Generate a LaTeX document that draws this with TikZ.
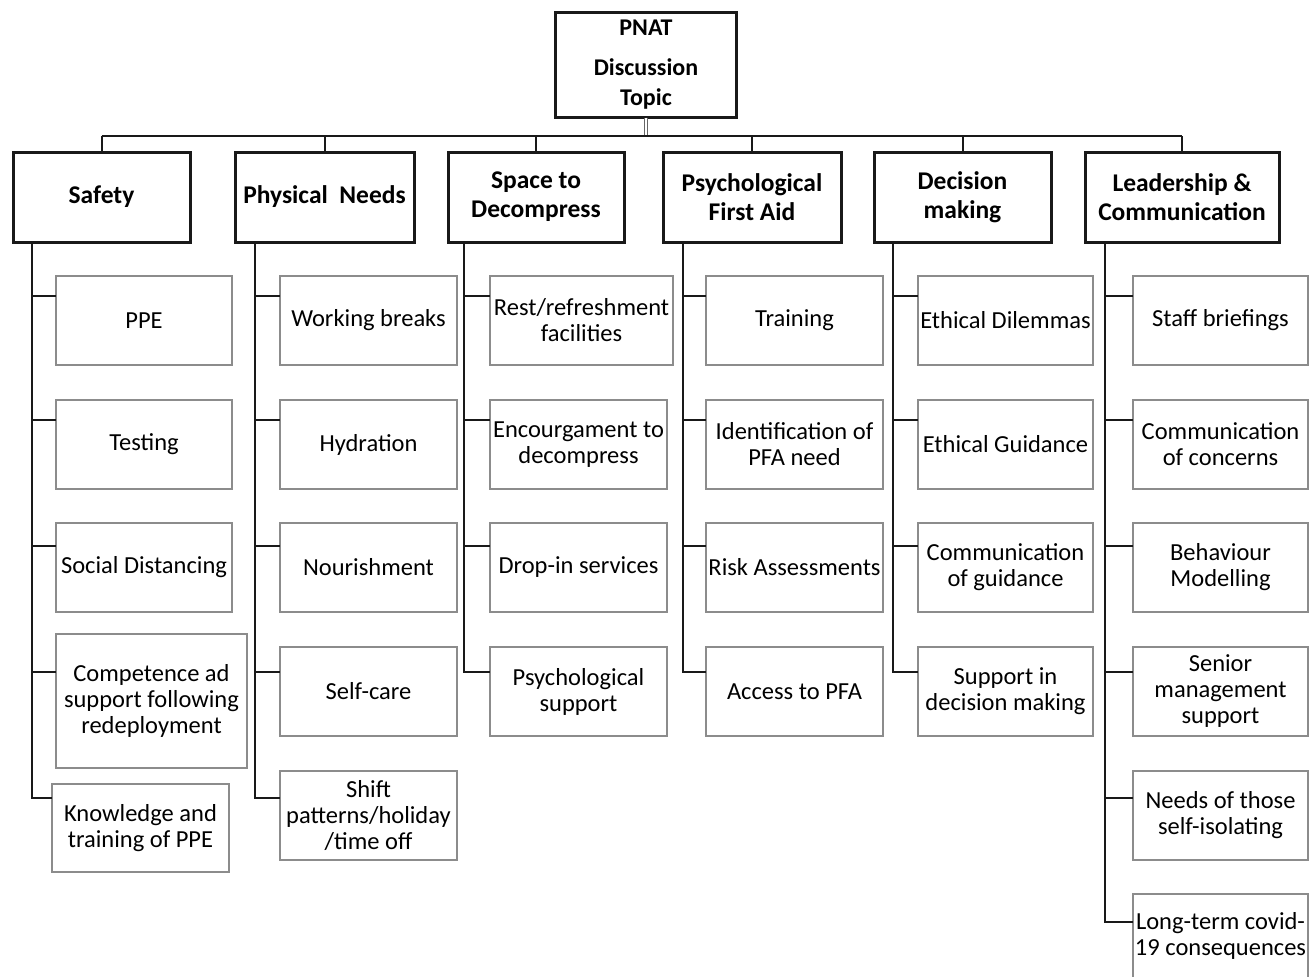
\documentclass[tikz,border=0pt]{standalone}
\usepackage{fontspec}
\setmainfont{Carlito}
\begin{document}
\begin{tikzpicture}[x=1pt,y=-1pt,
  conn/.style={draw=black!90, line width=2pt},
  catbox/.style={draw=black!90, line width=3pt, fill=white, inner sep=0pt, outer sep=0pt,
    align=center, font=\fontsize{25.5}{29}\selectfont\bfseries},
  topbox/.style={draw=black!90, line width=3pt, fill=white, inner sep=0pt, outer sep=0pt,
    align=center, font=\fontsize{24}{30}\selectfont\bfseries},
  leaf/.style={draw=black!45, line width=1.6pt, fill=white, inner sep=0pt, outer sep=0pt,
    align=center, font=\fontsize{24.5}{26}\selectfont}]
\useasboundingbox (0,0) rectangle (1309,977);

\newcommand\catnode[7]{% name, x1, x2, y1, y2, spine x, text
  \node[catbox, minimum width={(#3-#2)*1pt}, minimum height={(#5-#4)*1pt}] (#1) at ({(#2+#3)/2},{(#4+#5)/2}) {#7};
  \coordinate (#1S) at (#6,#5);
}
\newcommand\leafbox[8]{% name, spine, x1, x2, y1, y2, tick y, text
  \node[leaf, minimum width={(#4-#3)*1pt}, minimum height={(#6-#5)*1pt}] (#1) at ({(#3+#4)/2},{(#5+#6)/2}) {#8};
  \draw[conn] (#2) |- (#1.west |- 0,#7);
}

% top node
\node[topbox, minimum width=181pt, minimum height=105pt] (top) at (646,65) {PNAT\\[10pt]Discussion\\Topic};
\coordinate (bus) at (0,136);

% categories
\catnode{safety}{13}{190}{152}{242}{32}{Safety}
\catnode{phys}{235}{414}{152}{242}{255}{Physical\ \ Needs}
\catnode{space}{448}{624}{152}{242}{464}{Space to\\Decompress}
\catnode{pfa}{663}{841}{152}{242}{683}{Psychological\\First Aid}
\catnode{dec}{874}{1051}{152}{242}{893}{Decision\\making}
\catnode{lead}{1085}{1279}{152}{242}{1105}{Leadership \&\\Communication}

% bus connectors
\draw[black!60, line width=1pt, double=white, double distance=1.5pt] (top.south) -- (top.south |- bus);
\draw[conn] (safety.north |- bus) -- (lead.north |- bus);
\foreach \c in {safety,phys,space,pfa,dec,lead} {
  \draw[conn] (\c.north) -- (\c.north |- bus);
}

% Safety
\leafbox{s1}{safetyS}{56}{232}{276}{365}{296}{PPE}
\leafbox{s2}{safetyS}{56}{232}{400}{489}{420}{Testing}
\leafbox{s3}{safetyS}{56}{232}{523}{612}{546}{Social Distancing}
\leafbox{s4}{safetyS}{56}{247}{634}{768}{672}{Competence ad\\support following\\redeployment}
\leafbox{s5}{safetyS}{52}{229}{784}{872}{798}{Knowledge and\\training of PPE}

% Physical needs
\leafbox{p1}{physS}{280}{457}{276}{365}{296}{Working breaks}
\leafbox{p2}{physS}{280}{457}{400}{489}{420}{Hydration}
\leafbox{p3}{physS}{280}{457}{523}{612}{546}{Nourishment}
\leafbox{p4}{physS}{280}{457}{647}{736}{672}{Self-care}
\leafbox{p5}{physS}{280}{457}{771}{860}{798}{Shift\\patterns/holiday\\/time off}

% Space to decompress
\leafbox{d1}{spaceS}{490}{673}{276}{365}{296}{Rest/refreshment\\facilities}
\leafbox{d2}{spaceS}{490}{667}{400}{489}{420}{Encourgament to\\decompress}
\leafbox{d3}{spaceS}{490}{667}{523}{612}{546}{Drop-in services}
\leafbox{d4}{spaceS}{490}{667}{647}{736}{672}{Psychological\\support}

% PFA
\leafbox{f1}{pfaS}{706}{883}{276}{365}{296}{Training}
\leafbox{f2}{pfaS}{706}{883}{400}{489}{420}{Identification of\\PFA need}
\leafbox{f3}{pfaS}{706}{883}{523}{612}{546}{Risk Assessments}
\leafbox{f4}{pfaS}{706}{883}{647}{736}{672}{Access to PFA}

% Decision making
\leafbox{m1}{decS}{918}{1093}{276}{365}{296}{Ethical Dilemmas}
\leafbox{m2}{decS}{918}{1093}{400}{489}{420}{Ethical Guidance}
\leafbox{m3}{decS}{918}{1093}{523}{612}{546}{Communication\\of guidance}
\leafbox{m4}{decS}{918}{1093}{647}{736}{672}{Support in\\decision making}

% Leadership & communication
\leafbox{l1}{leadS}{1133}{1308}{276}{365}{296}{Staff briefings}
\leafbox{l2}{leadS}{1133}{1308}{400}{489}{420}{Communication\\of concerns}
\leafbox{l3}{leadS}{1133}{1308}{523}{612}{546}{Behaviour\\Modelling}
\leafbox{l4}{leadS}{1133}{1308}{647}{736}{672}{Senior\\management\\support}
\leafbox{l5}{leadS}{1133}{1308}{771}{860}{798}{Needs of those\\self-isolating}
\leafbox{l6}{leadS}{1133}{1308}{894}{978}{922}{Long-term covid-\\19 consequences}
\end{tikzpicture}
\end{document}
